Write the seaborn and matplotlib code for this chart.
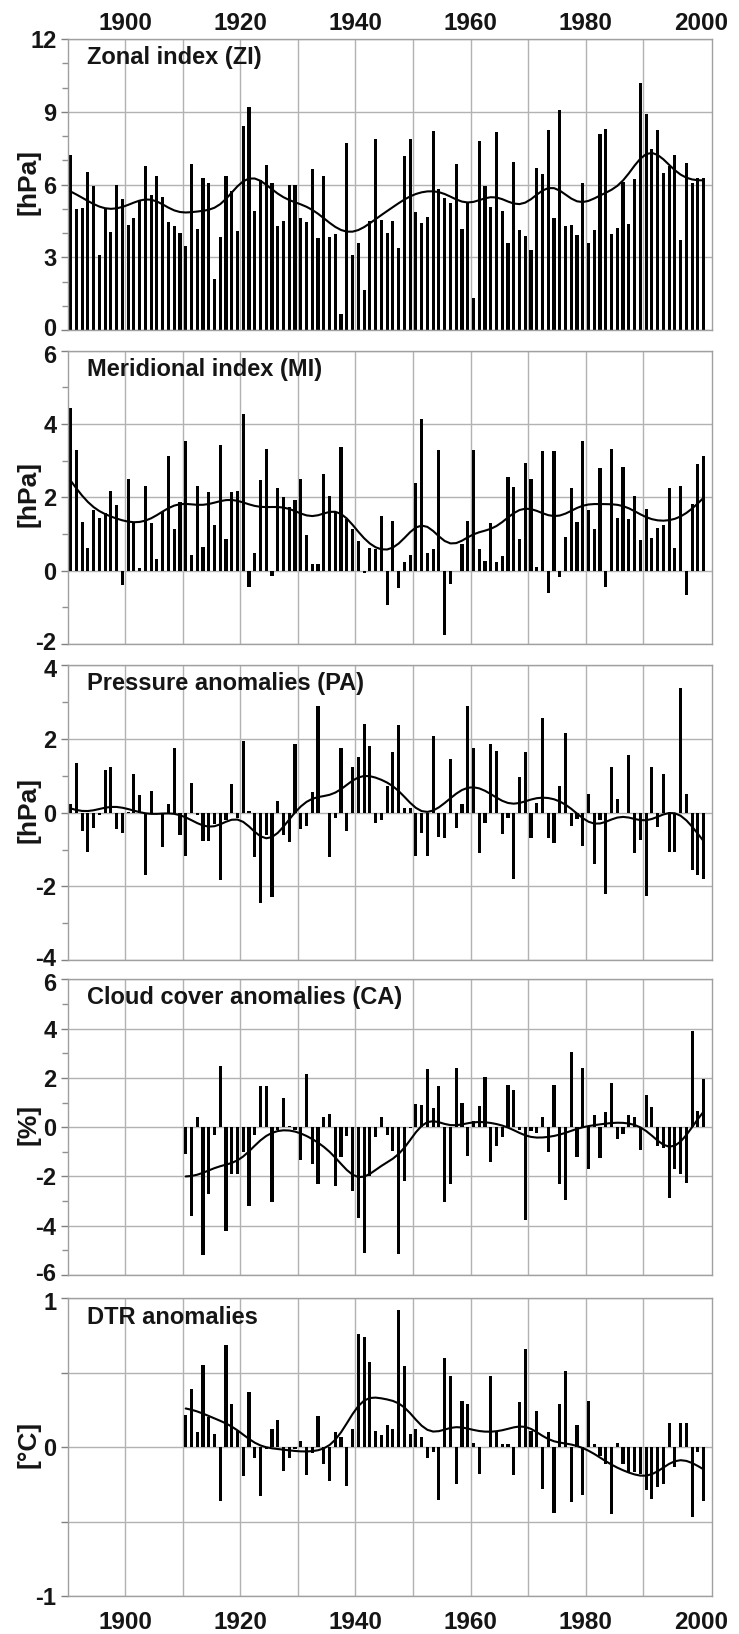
import numpy as np
import pandas as pd
import matplotlib
matplotlib.use("Agg")
import matplotlib.pyplot as plt
from matplotlib.ticker import MultipleLocator
from matplotlib.transforms import ScaledTranslation
import seaborn as sns

# ---------------- data ----------------
years_long = np.arange(1890, 2001)
years_short = np.arange(1910, 2001)

zi = [7.2, 5.0, 5.05, 6.5, 5.95, 3.1, 5.0, 4.05, 6.0, 5.4,
      4.35, 4.6, 5.3, 6.75, 5.55, 6.35, 5.5, 4.45, 4.3, 4.0,
      3.45, 6.85, 4.15, 6.25, 6.05, 2.1, 3.85, 6.35, 5.75, 4.1,
      8.4, 9.2, 4.9, 6.2, 6.8, 6.05, 4.3, 4.5, 6.0, 6.0,
      4.6, 4.45, 6.65, 3.8, 6.35, 3.85, 3.95, 0.65, 7.7, 3.1,
      3.6, 1.65, 4.5, 7.86, 4.54, 3.99, 4.5, 3.37, 7.19, 7.86,
      4.85, 4.4, 4.65, 8.2, 5.8, 5.43, 5.22, 6.83, 4.18, 5.28,
      1.3, 7.8, 5.95, 5.06, 8.15, 4.9, 3.57, 6.93, 4.12, 3.89,
      3.3, 6.67, 6.43, 8.25, 4.6, 9.07, 4.29, 4.32, 3.92, 6.05,
      3.57, 4.12, 8.07, 8.3, 3.95, 4.22, 6.12, 4.37, 6.23, 10.2,
      8.9, 7.46, 8.25, 6.46, 6.78, 7.2, 3.71, 6.87, 6.08, 6.28, 6.28]

mi = [4.45, 3.29, 1.34, 0.63, 1.65, 1.45, 1.56, 2.17, 1.8, -0.39,
      2.49, 1.32, 0.08, 2.32, 1.3, 0.31, 1.6, 3.13, 1.15, 1.88,
      3.55, 0.42, 2.31, 0.65, 2.14, 1.25, 3.42, 0.86, 2.14, 2.17,
      4.26, -0.44, 0.47, 2.47, 3.32, -0.15, 2.26, 2.02, 1.75, 1.93,
      2.49, 0.97, 0.18, 0.18, 2.63, 2.03, 1.6, 3.37, 1.4, 1.15,
      0.8, -0.05, 0.62, 0.6, 1.5, -0.94, 1.35, -0.46, 0.23, 0.43,
      2.4, 4.13, 0.47, 0.59, 3.29, -1.75, -0.37, -0.01, 0.73, 1.36,
      3.29, 0.58, 0.27, 1.31, 0.23, 0.41, 2.56, 2.27, 0.86, 2.95,
      2.49, 0.09, 3.27, -0.62, 3.27, -0.18, 0.91, 2.25, 1.32, 3.54,
      1.65, 1.14, 2.79, -0.44, 3.31, 1.43, 2.84, 1.4, 2.05, 0.85,
      1.68, 0.88, 1.17, 1.25, 2.25, 0.61, 2.31, -0.66, 1.81, 2.9, 3.14]

pa = [0.24, 1.34, -0.49, -1.08, -0.41, -0.05, 1.16, 1.23, -0.44, -0.56,
      0.02, 1.05, 0.48, -1.69, 0.59, -0.02, -0.93, 0.23, 1.77, -0.61,
      -1.18, 0.82, -0.05, -0.77, -0.77, -0.3, -1.84, -0.2, 0.78, -0.15,
      1.96, 0.05, -1.2, -2.45, -0.6, -2.3, 0.33, -0.6, -0.8, 1.86,
      -0.43, -0.37, 0.55, 2.9, 0.0, -1.2, -0.15, 1.75, -0.5, 1.25,
      1.5, 2.4, 1.8, -0.29, -0.2, 0.73, 1.64, 2.38, 0.14, 0.14,
      -1.17, -0.56, -1.17, 2.08, -0.65, -0.68, 1.45, -0.41, 0.23, 2.9,
      1.75, -1.09, -0.27, 1.86, 1.68, -0.58, -0.15, -1.8, 0.97, 1.66,
      -0.68, 0.27, 2.56, -0.7, -0.83, 0.73, 2.17, -0.35, -0.17, -0.9,
      0.51, -1.38, -0.2, -2.22, 1.25, 0.38, 0.0, 1.58, -1.09, -0.74,
      -2.25, 1.25, -0.38, 1.04, -1.06, -1.06, 3.38, 0.51, -1.56, -1.69, -1.8]

ca = [-1.08, -3.6, 0.4, -5.2, -2.7, -0.3, 2.5, -4.2, -1.9, -1.9,
      -1.0, -3.2, -0.3, 1.65, 1.65, -3.05, -0.1, 1.2, 0.05, -0.1,
      -1.35, 2.15, -1.5, -2.3, 0.4, 0.55, -2.4, -1.2, -0.35, -2.6,
      -3.7, -5.1, -2.0, -0.4, 0.42, -0.3, -0.97, -5.15, -2.18, -0.03,
      0.92, 0.89, 2.36, 0.78, 1.66, -3.03, -2.32, 2.4, 0.98, -1.17,
      0.24, 0.85, 2.02, -1.4, -0.77, -0.4, 1.73, 1.52, -0.13, -3.76,
      -0.16, -0.23, 0.42, -1.0, 1.73, -2.29, -2.95, 3.07, -1.2, 2.4,
      -1.71, 0.51, -1.24, 0.61, 1.79, -0.5, -0.26, 0.51, 0.4, -0.94,
      1.32, 0.82, -0.77, -0.84, -2.88, -1.71, -1.91, -2.25, 3.92, 0.67, 1.95]

dtr = [0.215, 0.39, 0.10, 0.55, 0.2, 0.085, -0.36, 0.685, 0.29, 0.11,
       -0.195, 0.37, -0.07, -0.33, -0.015, 0.125, 0.185, -0.16, -0.07, -0.015,
       0.04, -0.19, -0.04, 0.21, -0.11, -0.23, 0.1, 0.07, -0.26, 0.12,
       0.76, 0.74, 0.57, 0.11, 0.08, 0.15, 0.125, 0.92, 0.545, 0.09,
       0.125, 0.065, -0.075, -0.03, -0.355, 0.6, 0.48, -0.25, 0.31, 0.29,
       0.03, -0.18, 0.0, 0.48, 0.1, 0.02, 0.02, -0.19, 0.3, 0.66,
       0.11, 0.245, -0.28, 0.1, -0.44, 0.29, 0.51, -0.37, 0.15, -0.32,
       0.31, 0.02, -0.06, -0.11, -0.45, 0.025, -0.11, -0.17, -0.17, -0.18,
       -0.285, -0.345, -0.27, -0.245, 0.165, -0.13, 0.165, 0.165, -0.47, -0.03, -0.36]

titles = ["Zonal index (ZI)", "Meridional index (MI)", "Pressure anomalies (PA)",
          "Cloud cover anomalies (CA)", "DTR anomalies"]
units = ["[hPa]", "[hPa]", "[hPa]", "[%]", "[°C]"]
x_ticks = list(range(1900, 2001, 10))
x_labels = ["1900", "", "1920", "", "1940", "", "1960", "", "1980", "", "2000"]

# ---------------- style ----------------
sns.set_style("white")
plt.rcParams["font.family"] = ["Liberation Sans", "DejaVu Sans"]
plt.rcParams["font.weight"] = "bold"
plt.rcParams["axes.labelweight"] = "bold"
plt.rcParams["axes.unicode_minus"] = False

GRID = "#b2b2b2"
SPINE = "#a0a0a0"
TEXT = "#151515"


def smooth(x, y, sigma=3.0):
    x = np.asarray(x, float)
    y = np.asarray(y, float)
    w = np.exp(-0.5 * ((x[:, None] - x[None, :]) / sigma) ** 2)
    return (w @ y) / w.sum(axis=1)


panels = [
    dict(years=years_long, vals=zi, ylim=(0, 12), major=[0, 3, 6, 9, 12],
         labels=["0", "3", "6", "9", "12"], minor=1),
    dict(years=years_long, vals=mi, ylim=(-2, 6), major=[-2, 0, 2, 4, 6],
         labels=["-2", "0", "2", "4", "6"], minor=1),
    dict(years=years_long, vals=pa, ylim=(-4, 4), major=[-4, -2, 0, 2, 4],
         labels=["-4", "-2", "0", "2", "4"], minor=1),
    dict(years=years_short, vals=ca, ylim=(-6, 6), major=[-6, -4, -2, 0, 2, 4, 6],
         labels=["-6", "-4", "-2", "0", "2", "4", "6"], minor=1),
    dict(years=years_short, vals=dtr, ylim=(-1, 1), major=[-1, -0.5, 0, 0.5, 1],
         labels=["-1", "", "0", "", "1"], minor=None),
]

# axes rectangles (fractions of the 739 x 1634 figure)
H = 1634.0
tops = [39.0, 350.7, 665.4, 979.3, 1298.3]
bottoms = [330.0, 644.0, 960.0, 1275.0, 1596.0]
LEFT = 67.7 / 739
WIDTH = 644.0 / 739

fig = plt.figure(figsize=(7.39, 16.34), dpi=100)
axes = []

for k, cfg in enumerate(panels):
    rect = [LEFT, 1 - bottoms[k] / H, WIDTH, (bottoms[k] - tops[k]) / H]
    ax = fig.add_axes(rect)
    axes.append(ax)
    df = pd.DataFrame({"pos": cfg["years"] + 0.5, "value": cfg["vals"]})
    sns.barplot(data=df, x="pos", y="value", native_scale=True, color="black",
                saturation=1, width=0.55, errorbar=None, ax=ax, zorder=2,
                linewidth=0)
    df["smooth"] = smooth(df["pos"], df["value"])
    sns.lineplot(data=df, x="pos", y="smooth", color="black", lw=1.5, ax=ax,
                 zorder=3)

    ax.set_xlim(1890, 2001.9)
    ax.set_ylim(*cfg["ylim"])
    ax.set_yticks(cfg["major"])
    ax.set_yticklabels(cfg["labels"])
    if cfg["minor"]:
        ax.yaxis.set_minor_locator(MultipleLocator(cfg["minor"]))
    ax.set_xticks(x_ticks)
    ax.set_xticklabels(x_labels)

    ax.set_axisbelow(True)
    ax.grid(True, axis="y", which="major", color=GRID, lw=1.0, zorder=0)
    ax.grid(False, axis="x")
    for g in range(1900, 2000, 10):
        ax.axvline(g, color=GRID, lw=1.0, zorder=0)

    for s in ax.spines.values():
        s.set_visible(True)
        s.set_color(SPINE)
        s.set_linewidth(1.0)

    ax.tick_params(axis="y", which="major", length=5, width=1, color="#808080",
                   direction="out", labelsize=17, pad=3, left=True,
                   labelcolor=TEXT)
    ax.tick_params(axis="y", which="minor", length=4, width=1, color="#909090",
                   direction="out", left=True)
    ax.tick_params(axis="x", length=0, labelsize=17.5, labelcolor=TEXT)
    if k == 0:
        ax.xaxis.set_ticks_position("top")
        ax.tick_params(axis="x", labeltop=True, labelbottom=False, pad=3)
    elif k == len(panels) - 1:
        ax.tick_params(axis="x", labelbottom=True, pad=11)
    else:
        ax.tick_params(axis="x", labelbottom=False, labeltop=False)

    ax.set_xlabel("")
    ax.set_ylabel(units[k], fontsize=19, fontweight="bold", color=TEXT)
    ax.yaxis.set_label_coords(-0.043, 0.51)
    ax.text(0.03, 0.937, titles[k], transform=ax.transAxes, ha="left",
            va="center", fontsize=17, fontweight="bold", color=TEXT,
            zorder=5)

# nudge the end labels of neighbouring panels apart slightly
for k, ax in enumerate(axes):
    ticks = ax.yaxis.get_major_ticks()
    if k < len(axes) - 1:
        lab = ticks[0].label1
        lab.set_transform(lab.get_transform() +
                          ScaledTranslation(0, 0.03, fig.dpi_scale_trans))
    if k > 0:
        lab = ticks[-1].label1
        lab.set_transform(lab.get_transform() +
                          ScaledTranslation(0, -0.03, fig.dpi_scale_trans))

fig.savefig("out.png", dpi=100, facecolor="white")
